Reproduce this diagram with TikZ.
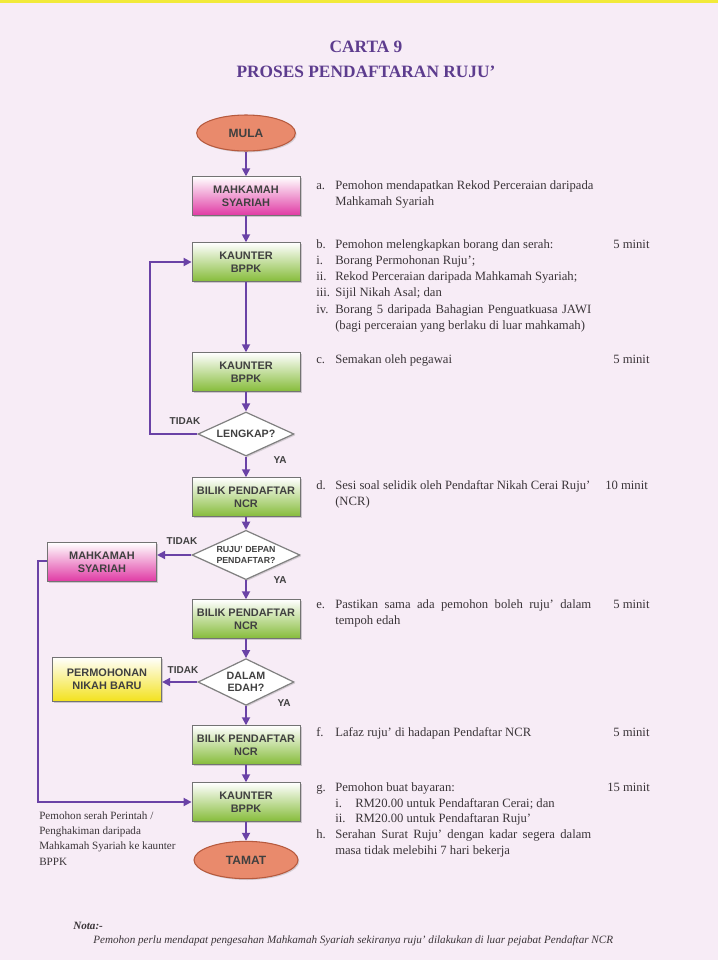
\documentclass[tikz,border=0pt]{standalone}
\usepackage{fontspec}
\setmainfont{Liberation Serif}
\setsansfont{Liberation Sans}
\usetikzlibrary{arrows.meta,shapes.geometric,shadows}
\definecolor{bgpink}{HTML}{F7ECF6}
\definecolor{topyellow}{HTML}{F2EA3A}
\definecolor{flowpurple}{HTML}{6A42A6}
\definecolor{titlepurple}{HTML}{5D3C8E}
\definecolor{boxgreen}{HTML}{86BC3A}
\definecolor{boxmagenta}{HTML}{E03AA4}
\definecolor{boxyellow}{HTML}{F3E21E}
\definecolor{salmon}{HTML}{E98A6C}
\definecolor{salmonedge}{HTML}{B65A3E}
\definecolor{bodytext}{HTML}{3A3438}
\tikzset{
  x=0.75pt, y=-0.75pt,
  procbox/.style={draw=black!55, line width=0.6pt, minimum width=81pt, minimum height=29pt,
    inner sep=1pt, align=center, text=black!75,
    font=\sffamily\bfseries\fontsize{8.2}{9.6}\selectfont,
    drop shadow={shadow xshift=1.2pt, shadow yshift=-1.2pt, opacity=0.35}},
  greenbox/.style={procbox, top color=white, middle color=white!75!boxgreen, bottom color=boxgreen},
  magbox/.style={procbox, top color=white, middle color=white!70!boxmagenta, bottom color=boxmagenta},
  yelbox/.style={procbox, top color=white, middle color=white!70!boxyellow, bottom color=boxyellow},
  terminal/.style={ellipse, draw=salmonedge, line width=0.8pt, fill=salmon, minimum width=74pt,
    minimum height=27pt, inner sep=0pt, text=black!75,
    font=\sffamily\bfseries\fontsize{9}{10}\selectfont,
    drop shadow={shadow xshift=1pt, shadow yshift=-1pt, opacity=0.3}},
  decision/.style={diamond, aspect=2.2, draw=black!50, line width=0.9pt, fill=white, inner sep=0pt,
    minimum width=72pt, minimum height=33pt, align=center, text=black!75,
    font=\sffamily\bfseries\fontsize{8}{9.2}\selectfont,
    drop shadow={shadow xshift=1pt, shadow yshift=-1pt, opacity=0.3}},
  arr/.style={draw=flowpurple, line width=1.3pt, -{Triangle[length=6pt,width=6pt]}},
  lbl/.style={font=\sffamily\bfseries\fontsize{7.5}{8}\selectfont, text=black!75, inner sep=0pt},
  body/.style={anchor=base west, inner sep=0pt, text=bodytext, font=\fontsize{9.5}{11}\selectfont},
  notetext/.style={anchor=base west, inner sep=0pt, text=bodytext, font=\fontsize{8.35}{10}\selectfont},
}
\begin{document}
\begin{tikzpicture}
\fill[bgpink] (0,0) rectangle (718,960);
\fill[topyellow] (0,0) rectangle (718,2.5);
\useasboundingbox (0,0) rectangle (718,960);

% title
\node[text=titlepurple, font=\bfseries\fontsize{13}{14}\selectfont, inner sep=0pt] (t1) at (366,47) {CARTA 9};
\node[text=titlepurple, font=\bfseries\fontsize{13}{14}\selectfont, inner sep=0pt] (t2) at (366,72) {PROSES PENDAFTARAN RUJU'};

% flow nodes
\node[terminal] (mula) at (246,133) {MULA};
\node[magbox] (mah1) at (246,196) {MAHKAMAH\\SYARIAH};
\node[greenbox] (kau1) at (246,262) {KAUNTER\\BPPK};
\node[greenbox] (kau2) at (246,372) {KAUNTER\\BPPK};
\node[decision] (lengkap) at (246,434) {LENGKAP?};
\node[greenbox] (bil1) at (246,497) {BILIK PENDAFTAR\\NCR};
\node[decision, minimum width=81pt, minimum height=37pt, font=\sffamily\bfseries\fontsize{6.6}{7.8}\selectfont] (ruju) at (246,555) {RUJU' DEPAN\\PENDAFTAR?};
\node[magbox, minimum width=82pt] (mah2) at (102,562) {MAHKAMAH\\SYARIAH};
\node[greenbox] (bil2) at (246,619) {BILIK PENDAFTAR\\NCR};
\node[decision, minimum height=35pt] (edah) at (246,682) {DALAM\\EDAH?};
\node[yelbox, minimum width=82pt, minimum height=33pt] (nikah) at (107,679) {PERMOHONAN\\NIKAH BARU};
\node[greenbox] (bil3) at (246,745) {BILIK PENDAFTAR\\NCR};
\node[greenbox] (kau3) at (246,802) {KAUNTER\\BPPK};
\node[terminal, minimum width=78pt, minimum height=28pt] (tamat) at (246,860) {TAMAT};

\coordinate (loopA) at (150,434);
\coordinate (loopB) at (38,561);

% connectors
\draw[arr] (mula) -- (mah1);
\draw[arr] (mah1) -- (kau1);
\draw[arr] (kau1) -- (kau2);
\draw[arr] (kau2) -- (lengkap);
\draw[arr] (lengkap) -- (bil1);
\draw[arr] (bil1) -- (ruju);
\draw[arr] (ruju) -- (bil2);
\draw[arr] (bil2) -- (edah);
\draw[arr] (edah) -- (bil3);
\draw[arr] (bil3) -- (kau3);
\draw[arr] (kau3) -- (tamat);
\draw[arr] (lengkap.west) -- (loopA) |- (kau1.west);
\draw[arr] (ruju.west) -- (ruju.west -| mah2.east);
\draw[arr] (edah.west) -- (edah.west -| nikah.east);
\draw[arr] (mah2.west |- loopB) -- (loopB) |- (kau3.west);

% branch labels
\node[lbl] (l1) at (185,421) {TIDAK};
\node[lbl] (l2) at (280,460) {YA};
\node[lbl] (l3) at (182,541) {TIDAK};
\node[lbl] (l4) at (280,580) {YA};
\node[lbl] (l5) at (183,670) {TIDAK};
\node[lbl] (l6) at (284,703) {YA};

% descriptions
\node[body] (a1) at (316,189) {a.};
\node[body] (a2) at (335,189) {Pemohon mendapatkan Rekod Perceraian daripada};
\node[body] (a3) at (335,205) {Mahkamah Syariah};

\node[body] (b1) at (316,248) {b.};
\node[body] (b2) at (335,248) {Pemohon melengkapkan borang dan serah:};
\node[body] (bt) at (613,248) {5 minit};
\node[body] (b3) at (316,264) {i.};
\node[body] (b4) at (335,264) {Borang Permohonan Ruju';};
\node[body] (b5) at (316,280) {ii.};
\node[body] (b6) at (335,280) {Rekod Perceraian daripada Mahkamah Syariah;};
\node[body] (b7) at (316,296) {iii.};
\node[body] (b8) at (335,296) {Sijil Nikah Asal; dan};
\node[body] (b9) at (316,313) {iv.};
\node[body] (b10) at (335,313) {\makebox[192pt][s]{Borang 5 daripada Bahagian Penguatkuasa JAWI}};
\node[body] (b11) at (335,329) {(bagi perceraian yang berlaku di luar mahkamah)};

\node[body] (c1) at (316,363) {c.};
\node[body] (c2) at (335,363) {Semakan oleh pegawai};
\node[body] (ct) at (613,363) {5 minit};

\node[body] (d1) at (316,489) {d.};
\node[body] (d2) at (335,489) {Sesi soal selidik oleh Pendaftar Nikah Cerai Ruju'};
\node[body] (dt) at (605,489) {10 minit};
\node[body] (d3) at (335,505) {(NCR)};

\node[body] (e1) at (316,608) {e.};
\node[body] (e2) at (335,608) {\makebox[192pt][s]{Pastikan sama ada pemohon boleh ruju' dalam}};
\node[body] (et) at (613,608) {5 minit};
\node[body] (e3) at (335,624) {tempoh edah};

\node[body] (f1) at (316,736) {f.};
\node[body] (f2) at (335,736) {Lafaz ruju' di hadapan Pendaftar NCR};
\node[body] (ft) at (613,736) {5 minit};

\node[body] (g1) at (316,791) {g.};
\node[body] (g2) at (335,791) {Pemohon buat bayaran:};
\node[body] (gt) at (607,791) {15 minit};
\node[body] (g3) at (335,807) {i.};
\node[body] (g4) at (355,807) {RM20.00 untuk Pendaftaran Cerai; dan};
\node[body] (g5) at (335,822) {ii.};
\node[body] (g6) at (355,822) {RM20.00 untuk Pendaftaran Ruju'};
\node[body] (h1) at (316,838) {h.};
\node[body] (h2) at (335,838) {\makebox[192pt][s]{Serahan Surat Ruju' dengan kadar segera dalam}};
\node[body] (h3) at (335,854) {masa tidak melebihi 7 hari bekerja};

% left note
\node[notetext] (n1) at (39,819) {Pemohon serah Perintah /};
\node[notetext] (n2) at (39,834) {Penghakiman daripada};
\node[notetext] (n3) at (39,849) {Mahkamah Syariah ke kaunter};
\node[notetext] (n4) at (39,865) {BPPK};

% footnote
\node[notetext, font=\bfseries\itshape\fontsize{8.35}{10}\selectfont] (nota) at (73,929) {Nota:-};
\node[notetext, font=\itshape\fontsize{8.35}{10}\selectfont] (notb) at (93,943) {Pemohon perlu mendapat pengesahan Mahkamah Syariah sekiranya ruju' dilakukan di luar pejabat Pendaftar NCR};
\end{tikzpicture}
\end{document}
